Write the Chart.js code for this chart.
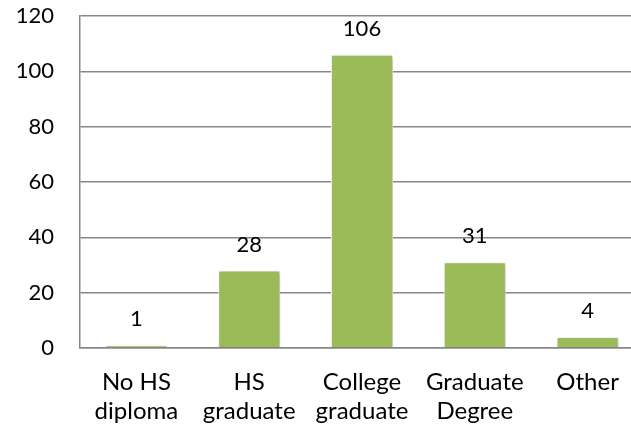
<!DOCTYPE html>
<html>
<head>
<meta charset="utf-8">
<script src="https://cdn.jsdelivr.net/npm/chart.js@4"></script>
<style>
  html, body { margin: 0; padding: 0; background: #fff; overflow: hidden; }
  #wrap { width: 650px; height: 431px; }
</style>
</head>
<body>
<div id="wrap"><canvas id="eduChart" width="650" height="431"></canvas></div>
<script>
const categories = [
    ["No HS", "diploma"],
    ["HS", "graduate"],
    ["College", "graduate"],
    ["Graduate", "Degree"],
    ["Other"]
];
const counts = [1, 28, 106, 31, 4];
const yTicks = [0, 20, 40, 60, 80, 100, 120];

const fontFamily = "Lato, 'Open Sans', sans-serif";

// soft drop shadow under the bars
const barShadow = {
    id: 'barShadow',
    beforeDatasetsDraw(chart) {
        const ctx = chart.ctx;
        ctx.save();
        ctx.shadowColor = 'rgba(0,0,0,0.28)';
        ctx.shadowBlur = 4;
        ctx.shadowOffsetX = 1.5;
        ctx.shadowOffsetY = 1.5;
    },
    afterDatasetsDraw(chart) {
        chart.ctx.restore();
    }
};

// value printed above every bar
const valueLabels = {
    id: 'valueLabels',
    afterDatasetsDraw(chart) {
        const ctx = chart.ctx;
        const meta = chart.getDatasetMeta(0);
        ctx.save();
        ctx.shadowColor = 'transparent';
        ctx.fillStyle = '#000';
        ctx.font = `22px ${fontFamily}`;
        ctx.textAlign = 'center';
        ctx.textBaseline = 'alphabetic';
        meta.data.forEach((bar, i) => {
            ctx.fillText(String(counts[i]), bar.x, bar.y - 19);
        });
        ctx.restore();
    }
};

const canvas = document.getElementById("eduChart");

new Chart(canvas.getContext('2d'), {
    type: 'bar',
    data: {
        labels: categories,
        datasets: [{
            data: counts,
            backgroundColor: '#9bbb59',
            borderColor: '#ffffff',
            borderWidth: 1,
            categoryPercentage: 1.0,
            barPercentage: 0.55
        }]
    },
    options: {
        responsive: false,
        animation: false,
        layout: { padding: { left: 0, right: 6, top: 16, bottom: 0 } },
        plugins: {
            legend: { display: false },
            tooltip: { enabled: false }
        },
        scales: {
            x: {
                grid: { display: false, drawTicks: false },
                border: { display: true, color: '#878787', width: 1.5 },
                ticks: {
                    color: '#000',
                    padding: 20,
                    maxRotation: 0,
                    autoSkip: false,
                    font: { family: fontFamily, size: 24, lineHeight: 1.19 }
                },
                afterFit(scale) { scale.height = 83; }
            },
            y: {
                min: 0,
                max: 120,
                afterBuildTicks(scale) {
                    scale.ticks = yTicks.map(v => ({ value: v }));
                },
                grid: { color: '#878787', lineWidth: 1.5, drawTicks: false },
                border: { display: true, color: '#878787', width: 1.5 },
                ticks: {
                    color: '#000',
                    padding: 26,
                    font: { family: fontFamily, size: 22 }
                },
                afterFit(scale) {
                    scale.width = 80;
                    // keep the tick padding from pushing the plot area down
                    scale.paddingTop = 0;
                    scale.paddingBottom = 0;
                }
            }
        }
    },
    plugins: [barShadow, valueLabels]
});
</script>
</body>
</html>
